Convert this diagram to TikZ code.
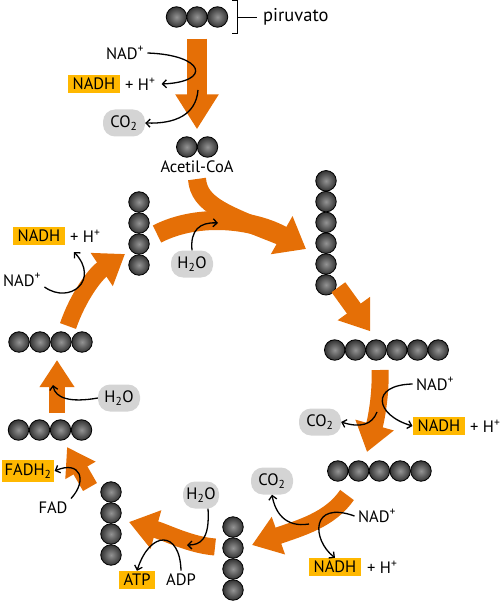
\documentclass[tikz,border=0pt]{standalone}
\usepackage{fontspec}
\setmainfont{PT Sans}
\usetikzlibrary{arrows.meta}
\definecolor{cycleorange}{RGB}{229,111,6}
\definecolor{nadhyellow}{RGB}{255,184,0}
\definecolor{molgray}{RGB}{212,212,212}
\tikzset{
  ball/.style={
    circle,
    draw=black,
    line width=0.8pt,
    minimum size=20.5pt,
    inner sep=0pt,
    inner color=black!42,
    outer color=black!80
  },
  pill/.style={
    fill=molgray,
    rounded corners=12pt,
    minimum width=42pt,
    minimum height=27pt,
    inner sep=0pt
  },
  hlbox/.style={
    fill=nadhyellow,
    minimum height=18pt,
    inner xsep=5pt,
    inner ysep=1pt
  },
  bigarrow/.style={
    draw=cycleorange,
    line width=20pt,
    -{Triangle[length=35pt,width=41pt]}
  },
  midarrow/.style={
    draw=cycleorange,
    line width=17pt,
    -{Triangle[length=28pt,width=38pt]}
  },
  smallarrow/.style={
    draw=cycleorange,
    line width=16pt,
    -{Triangle[length=27pt,width=33pt]}
  },
  band/.style={
    draw=cycleorange,
    line width=18pt
  },
  sidearrow/.style={
    -{Straight Barb[length=4pt,width=8pt]},
    line width=1.3pt
  }
}

\begin{document}
\begin{tikzpicture}[x=1pt, y=-1pt, every node/.style={font=\fontsize{16.5}{18}\selectfont}]
  \useasboundingbox (0,0) rectangle (501,601);

  % molecules
  \foreach \i in {1,2,3} \node[ball] (pyr\i) at (156+20.5*\i,17) {};
  \foreach \i in {1,2} \node[ball] (acet\i) at (166+20.75*\i,147) {};
  \foreach \i in {1,...,6} \node[ball] (cit\i) at (326,160+20.8*\i) {};
  \foreach \i in {1,...,6} \node[ball] (iso\i) at (314+20.7*\i,350) {};
  \foreach \i in {1,...,5} \node[ball] (akg\i) at (317+20.8*\i,471) {};
  \foreach \i in {1,...,4} \node[ball] (scoa\i) at (233,506+21*\i) {};
  \foreach \i in {1,...,4} \node[ball] (succ\i) at (111,471+21*\i) {};
  \foreach \i in {1,...,4} \node[ball] (fum\i) at (-2.5+21*\i,430) {};
  \foreach \i in {1,...,4} \node[ball] (mal\i) at (-2+21*\i,342) {};
  \foreach \i in {1,...,4} \node[ball] (oxa\i) at (139,181+21*\i) {};

  \node (acetlbl) at (197,167) {Acetil-CoA};
  \draw[line width=0.8pt] (232,0.5) -- (237,0.5) -- (237,33) -- (232,33);
  \node[anchor=west, inner sep=0pt, font=\fontsize{18.5}{20}\selectfont] (piruvato) at (263,17) {piruvato};
  \coordinate (brkt) at (237,17);
  \coordinate (brktend) at (257,17);
  \draw[line width=0.8pt] (brkt) -- (brktend);

  % cofactors
  \node (nadA) at (125,53) {NAD\textsuperscript{+}};
  \node[hlbox] (nadhA) at (94,84) {NADH};
  \node[anchor=west, inner sep=0pt] (hA) at (125,84) {+ H\textsuperscript{+}};
  \node[pill] (co2A) at (124,123) {CO\textsubscript{2}};

  \node[hlbox] (nadhB) at (39,236) {NADH};
  \node[anchor=west, inner sep=0pt] (hB) at (70,236) {+ H\textsuperscript{+}};
  \node (nadB) at (22,280) {NAD\textsuperscript{+}};
  \node[pill] (h2oA) at (192,264) {H\textsubscript{2}O};

  \node (nadC) at (435,384) {NAD\textsuperscript{+}};
  \node[hlbox] (nadhC) at (439,426) {NADH};
  \node[anchor=west, inner sep=0pt] (hC) at (470,426) {+ H\textsuperscript{+}};
  \node[pill] (co2B) at (320,422) {CO\textsubscript{2}};

  \node[pill] (co2C) at (272,481) {CO\textsubscript{2}};
  \node (nadD) at (377,516) {NAD\textsuperscript{+}};
  \node[hlbox] (nadhD) at (335,567) {NADH};
  \node[anchor=west, inner sep=0pt] (hD) at (367,567) {+ H\textsuperscript{+}};

  \node[pill, minimum width=36pt] (h2oB) at (201,495) {H\textsubscript{2}O};
  \node[hlbox] (atp) at (137,580) {ATP};
  \node (adp) at (181,580) {ADP};

  \node[hlbox, minimum height=22pt, inner xsep=3pt] (fadh) at (28,471) {FADH\textsubscript{2}};
  \node (fad) at (53,508) {FAD};
  \node[pill] (h2oC) at (119,398) {H\textsubscript{2}O};

  % orange flow
  \coordinate (acetout) at (197,179);
  \coordinate (oxaout) at (157,234);
  \coordinate (citin) at (306,249);
  \coordinate (isoout) at (380,370);
  \coordinate (akgin) at (367,452);
  \coordinate (akgout) at (347,495);
  \coordinate (scoain) at (252,545);
  \coordinate (scoaout) at (215,547);
  \coordinate (succin) at (129,522);
  \coordinate (succout) at (90,487);
  \coordinate (fumin) at (67,447);
  \coordinate (fumout) at (57,413);
  \coordinate (malin) at (57,360);
  \coordinate (malout) at (68,326);
  \coordinate (oxain) at (125,254);
  \draw[bigarrow, shorten <=11pt, shorten >=7pt] (pyr2.south) -- (pyr2.south |- acet1.north);
  \draw[band] (acetout) .. controls (199,205) and (225,214) .. (283,237);
  \draw[midarrow, line width=19pt, -{Triangle[length=28pt,width=42pt]}] (oxaout) .. controls (200,212) and (255,220) .. (citin);
  \draw[midarrow, shorten <=3pt, shorten >=10pt] (cit6.east) -- (iso3.north);
  \draw[midarrow] (isoout) .. controls (381,395) and (376,420) .. (akgin);
  \draw[midarrow] (akgout) .. controls (330,520) and (300,528) .. (scoain);
  \draw[midarrow] (scoaout) .. controls (190,545) and (165,532) .. (succin);
  \draw[smallarrow] (succout) -- (fumin);
  \draw[smallarrow] (fumout) -- (malin);
  \draw[midarrow] (malout) .. controls (78,297) and (95,274) .. (oxain);

  % side reactions
  \coordinate (bandA) at (198,90);
  \coordinate (bandB) at (377,412);
  \coordinate (bandC) at (309,524);
  \draw[sidearrow] (nadA.east) .. controls (205,55) and (212,82) .. ([xshift=6pt]hA.east);
  \draw[sidearrow] (bandA) .. controls (196,115) and (175,124) .. (co2A.east);
  \draw[sidearrow] (nadB.east) ++(0,7) .. controls (70,305) and (100,280) .. (74,252);
  \draw[sidearrow] (h2oA.north) .. controls (190,230) and (200,222) .. (218,223);
  \draw[sidearrow] (nadC.west) .. controls (370,385) and (375,415) .. (nadhC.west);
  \draw[sidearrow] (bandB) .. controls (372,425) and (360,428) .. (co2B.east);
  \draw[sidearrow] (bandC) .. controls (285,528) and (275,512) .. (co2C.south);
  \draw[sidearrow] (nadD.west) .. controls (310,500) and (312,540) .. (nadhD.north);
  \draw[sidearrow] ([xshift=7pt]h2oB.south) .. controls (210,540) and (200,545) .. (187,545);
  \draw[sidearrow] (adp.north) .. controls (180,530) and (150,530) .. (atp.north);
  \draw[sidearrow] (fad.north east) .. controls (88,480) and (80,460) .. (fadh.east);
  \draw[sidearrow] (h2oC.west) .. controls (70,403) and (55,398) .. (53,385);
\end{tikzpicture}
\end{document}
